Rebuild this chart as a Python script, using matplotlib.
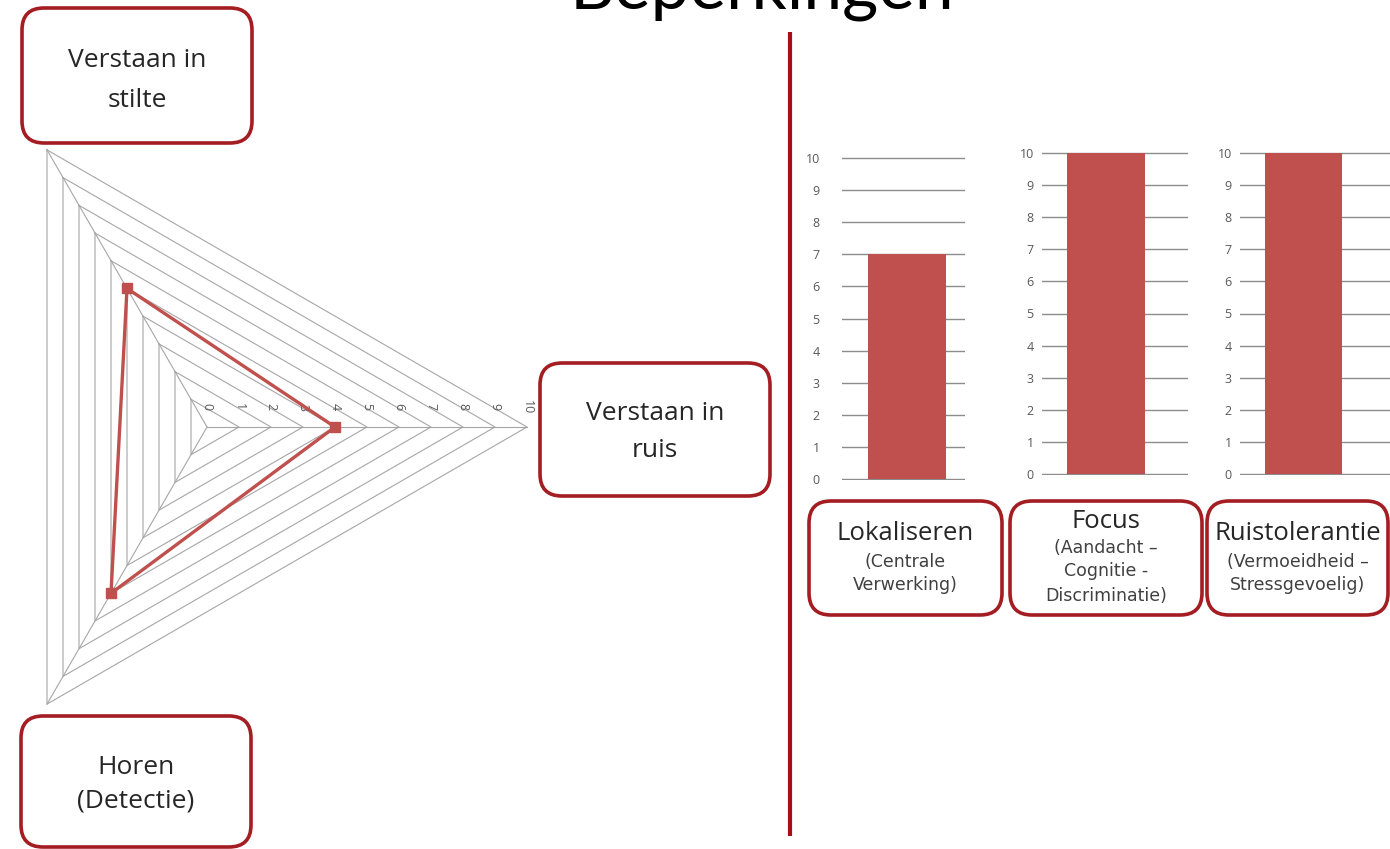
import numpy as np
import matplotlib
matplotlib.use("Agg")
import matplotlib.pyplot as plt
from matplotlib.patches import FancyBboxPatch

plt.rcParams['font.family'] = ['Open Sans', 'DejaVu Sans']

# radar chart data (left side)
radar_labels = ["Verstaan in\nstilte", "Verstaan in\nruis", "Horen\n(Detectie)"]
radar_values = [5, 4, 6]
radar_angles = [120, 0, 240]          # direction of each spoke, degrees
radar_ticks = list(range(0, 11))

# bar charts data (right side)
bar_titles = ["Lokaliseren", "Focus", "Ruistolerantie"]
bar_subtitles = ["(Centrale\nVerwerking)",
                 "(Aandacht \u2013\nCognitie -\nDiscriminatie)",
                 "(Vermoeidheid \u2013\nStressgevoelig)"]
bar_values = [7, 10, 10]
bar_ticks = list(range(0, 11))

title = "Beperkingen"

W, H = 1390, 849
RED = '#C0504D'
BOXRED = '#A31D22'
GRID = '#A6A6A6'

fig = plt.figure(figsize=(W / 100, H / 100), dpi=100)
bg = fig.add_axes([0, 0, 1, 1])
bg.set_xlim(0, W)
bg.set_ylim(H, 0)
bg.axis('off')


def rect(x0, y0, x1, y1):
    # pixel box (top-left origin) -> figure fraction
    return [x0 / W, 1 - y1 / H, (x1 - x0) / W, (y1 - y0) / H]


def box(x0, y0, x1, y1):
    p = FancyBboxPatch((x0, y0), x1 - x0, y1 - y0,
                       boxstyle="round,pad=0,rounding_size=22",
                       ec=BOXRED, fc='white', lw=2.6, zorder=2)
    bg.add_patch(p)


# title (cut off at the top like the slide)
bg.text(570, 8, title, fontsize=50, family=['Lato', 'DejaVu Sans'],
        ha='left', va='baseline', color='black')
bg.text(495, 0, "-", fontsize=12, ha='center', va='center', color='#777777')

# divider
bg.plot([790, 790], [32, 836], color='#A50F15', lw=3, solid_capstyle='butt')

# ---- radar ----
cx, cy, unit = 207, 427, 32.0
x0, y0, x1, y1 = 0, 130, 560, 730
ax = fig.add_axes(rect(x0, y0, x1, y1))
ax.set_xlim((x0 - cx) / unit, (x1 - cx) / unit)
ax.set_ylim((cy - y1) / unit, (cy - y0) / unit)
ax.set_facecolor('none')
ax.axis('off')

ang = np.radians(radar_angles)
for r in radar_ticks[1:]:
    xs = [r * np.cos(a) for a in ang] + [r * np.cos(ang[0])]
    ys = [r * np.sin(a) for a in ang] + [r * np.sin(ang[0])]
    ax.plot(xs, ys, color=GRID, lw=0.8, zorder=1)
for a in ang:
    ax.plot([0, radar_ticks[-1] * np.cos(a)], [0, radar_ticks[-1] * np.sin(a)],
            color=GRID, lw=0.8, zorder=1)
for t in radar_ticks:
    ax.text(t, 20 / unit, str(t), rotation=-90, ha='center', va='center',
            fontsize=9, color='#595959')

vx = [v * np.cos(a) for v, a in zip(radar_values, ang)]
vy = [v * np.sin(a) for v, a in zip(radar_values, ang)]
ax.plot(vx + vx[:1], vy + vy[:1], color=RED, lw=2.4, zorder=3)
ax.plot(vx, vy, 's', color=RED, ms=7.5, zorder=4)

# radar labels in boxes
radar_boxes = [(22, 8, 252, 143), (540, 363, 770, 496), (21, 716, 251, 847)]
radar_text_y = [(60, 100), (413, 450), (767, 801)]
for lab, (bx0, by0, bx1, by1), ys in zip(radar_labels, radar_boxes, radar_text_y):
    box(bx0, by0, bx1, by1)
    for line, yy in zip(lab.split("\n"), ys):
        bg.text((bx0 + bx1) / 2, yy, line, fontsize=19, ha='center', va='center',
                color='#262626', zorder=3)

# ---- bar charts ----
# grid x-range, y of 0 and 10, bar x-range (pixels), tick label pad
bar_geom = [(842, 965, 479, 158, 868, 946, 16),
            (1042, 1188, 474, 153, 1067, 1145, 6),
            (1240, 1390, 474, 153, 1265, 1342, 6)]
for val, (gx0, gx1, py0, py10, bx0, bx1, pad) in zip(bar_values, bar_geom):
    bax = fig.add_axes(rect(gx0, py10 - 1, gx1, py0 + 1))
    bc, bw = (bx0 + bx1) / 2, (bx1 - bx0)
    bax.set_xlim((gx0 - bc) / bw, (gx1 - bc) / bw)
    span = 10 * 1 / (py0 - py10)
    bax.set_ylim(-span, 10 + span)
    bax.bar([0], [val], width=1.0, color=RED, zorder=3)
    bax.set_yticks(bar_ticks)
    bax.set_xticks([])
    bax.yaxis.grid(True, color='#8C8C8C', lw=1.0)
    bax.set_axisbelow(True)
    for s in bax.spines.values():
        s.set_visible(False)
    bax.tick_params(axis='y', length=0, pad=pad, labelsize=9, labelcolor='#595959')
    bax.set_facecolor('none')

label_boxes = [(809, 501, 1002, 615), (1010, 501, 1202, 615), (1207, 501, 1388, 615)]
label_y = [(534, 562, 585), (521, 548, 571, 596), (534, 562, 585)]
for t, sub, (bx0, by0, bx1, by1), ys in zip(bar_titles, bar_subtitles, label_boxes, label_y):
    box(bx0, by0, bx1, by1)
    xc = (bx0 + bx1) / 2
    bg.text(xc, ys[0], t, fontsize=18.5, ha='center', va='center', color='#262626', zorder=3)
    for line, yy in zip(sub.split("\n"), ys[1:]):
        bg.text(xc, yy, line, fontsize=12.5, family=['DejaVu Sans'], ha='center',
                va='center', color='#404040', zorder=3)

fig.savefig("out.png", dpi=100, facecolor='white')
